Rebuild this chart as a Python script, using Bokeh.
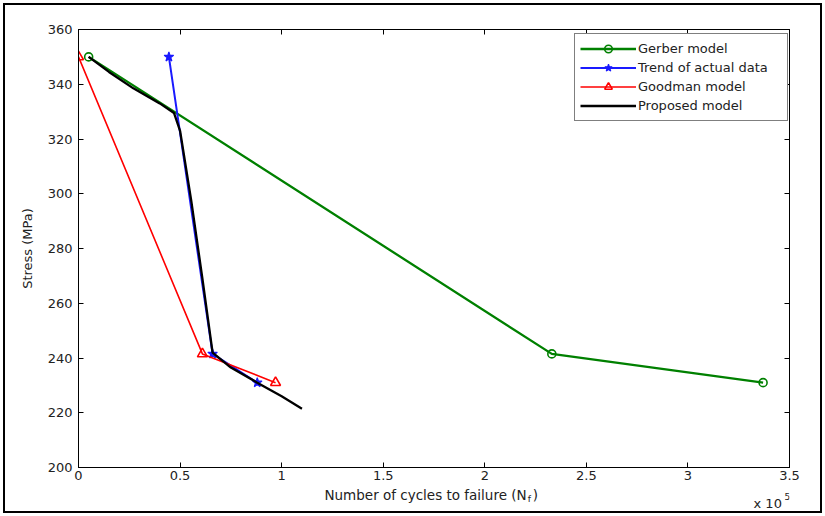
from bokeh.plotting import figure
from bokeh.models import (Range1d, LinearAxis, FixedTicker, Legend, LegendItem)
from bokeh.layouts import column
from bokeh.core.properties import value
from bokeh.embed import file_html
from bokeh.resources import INLINE

# Number of cycles to failure, in units of 10^5
gerber_n = [0.05, 2.33, 3.37]
gerber_s = [350, 241.5, 231]

trend_n = [0.445, 0.66, 0.88]
trend_s = [350, 241.5, 231]

goodman_n = [0.0, 0.61, 0.97]
goodman_s = [350, 241.5, 231]

proposed_n = [0.05, 0.15, 0.27, 0.40, 0.47, 0.50, 0.555, 0.61, 0.66, 0.75, 0.88, 1.0, 1.1]
proposed_s = [350, 344.5, 338.5, 333, 329.5, 323, 297.5, 269, 242, 236.5, 231, 226, 221.5]

x_ticks = [0, 0.5, 1, 1.5, 2, 2.5, 3, 3.5]
y_ticks = [200, 220, 240, 260, 280, 300, 320, 340, 360]

FONT = "DejaVu Sans"
TXT = "#222222"
GREEN = "#008000"
BLUE = "#1a1aff"
RED = "#ff0000"

xr = Range1d(0, 3.5)
p = figure(width=815, height=481, output_backend="svg", toolbar_location=None,
           x_range=xr, y_range=Range1d(200, 360),
           min_border_left=73, min_border_right=31, min_border_top=24, min_border_bottom=19,
           background_fill_color="white", border_fill_color="white")
p.grid.visible = False
p.outline_line_color = "black"
p.outline_line_width = 1

p.xaxis.ticker = FixedTicker(ticks=x_ticks)
p.yaxis.ticker = FixedTicker(ticks=y_ticks)
p.xaxis.major_label_overrides = {t: ("%g" % t) for t in x_ticks}
for ax in (p.xaxis[0], p.yaxis[0]):
    ax.major_tick_in = 5
    ax.major_tick_out = 0
    ax.minor_tick_line_color = None
    ax.axis_line_color = "black"
    ax.major_tick_line_color = "black"
    ax.major_label_text_font = FONT
    ax.major_label_text_font_size = "13px"
    ax.major_label_text_color = TXT
p.xaxis.major_label_standoff = 3
p.yaxis.major_label_standoff = 6

p.yaxis.axis_label = "Stress (MPa)"
p.yaxis.axis_label_text_font = FONT
p.yaxis.axis_label_text_font_size = "13px"
p.yaxis.axis_label_text_font_style = "normal"
p.yaxis.axis_label_text_color = TXT
p.yaxis.axis_label_standoff = 10

top = LinearAxis(ticker=FixedTicker(ticks=x_ticks),
                 major_label_overrides={t: "" for t in x_ticks})
right = LinearAxis(ticker=FixedTicker(ticks=y_ticks),
                   major_label_overrides={t: "" for t in y_ticks})
for ax in (top, right):
    ax.major_tick_in = 5
    ax.major_tick_out = 0
    ax.minor_tick_line_color = None
    ax.axis_line_color = "black"
    ax.major_tick_line_color = "black"
    ax.major_label_standoff = 0
p.add_layout(top, "above")
p.add_layout(right, "right")

# series
g_line = p.line(gerber_n, gerber_s, line_color=GREEN, line_width=2.3)
g_pts = p.scatter(gerber_n, gerber_s, marker="circle", size=8, line_color=GREEN,
                  fill_color=None, line_width=1.6)

t_line = p.line(trend_n, trend_s, line_color=BLUE, line_width=2)
t_pts = p.scatter(trend_n, trend_s, marker="star", size=10, line_color=BLUE,
                  fill_color=BLUE, line_width=1.2)

gm_line = p.line(goodman_n, goodman_s, line_color=RED, line_width=1.6)
gm_pts = p.scatter(goodman_n, goodman_s, marker="triangle", size=10, line_color=RED,
                   fill_color=None, line_width=1.6)

pr_line = p.line(proposed_n, proposed_s, line_color="black", line_width=2.3)

legend = Legend(items=[
    LegendItem(label="Gerber model", renderers=[g_line, g_pts]),
    LegendItem(label="Trend of actual data", renderers=[t_line, t_pts]),
    LegendItem(label="Goodman model", renderers=[gm_line, gm_pts]),
    LegendItem(label="Proposed model", renderers=[pr_line]),
], location=(496, 346))
legend.border_line_color = "black"
legend.border_line_width = 1
legend.background_fill_color = "white"
legend.background_fill_alpha = 1
legend.label_text_font = FONT
legend.label_text_font_size = "13px"
legend.label_text_color = TXT
legend.glyph_width = 56
legend.glyph_height = 19
legend.label_height = 19
legend.label_width = 144
legend.label_standoff = 2
legend.spacing = 0
legend.padding = 5
legend.margin = 0
p.add_layout(legend)

# strip below the axes for the x-axis title and the scale factor
s = figure(width=815, height=25, output_backend="svg", toolbar_location=None,
           x_range=xr, y_range=Range1d(0, 25), x_axis_type=None, y_axis_type=None,
           min_border_left=73, min_border_right=31, min_border_top=0, min_border_bottom=0,
           background_fill_color="white", border_fill_color="white")
s.outline_line_color = None
s.grid.visible = False
s.text(x=[2.206], y=[17], text=["Number of cycles to failure (N"], text_align="right",
       text_baseline="middle", text_font=value(FONT), text_font_size="13.5px", text_color=TXT)
s.text(x=[2.211], y=[13], text=["f"], text_align="left",
       text_baseline="middle", text_font=value(FONT), text_font_size="9px", text_color=TXT)
s.text(x=[2.236], y=[17], text=[")"], text_align="left",
       text_baseline="middle", text_font=value(FONT), text_font_size="13.5px", text_color=TXT)
s.text(x=[3.323], y=[8], text=["x 10"], text_align="left",
       text_baseline="middle", text_font=value(FONT), text_font_size="13px", text_color=TXT)
s.text(x=[3.475], y=[15], text=["5"], text_align="left",
       text_baseline="middle", text_font=value(FONT), text_font_size="9px", text_color=TXT)

layout = column(p, s, spacing=0,
                styles={"border": "2px solid black", "margin": "3px"})

open("out.html", "w").write(file_html(layout, INLINE))
